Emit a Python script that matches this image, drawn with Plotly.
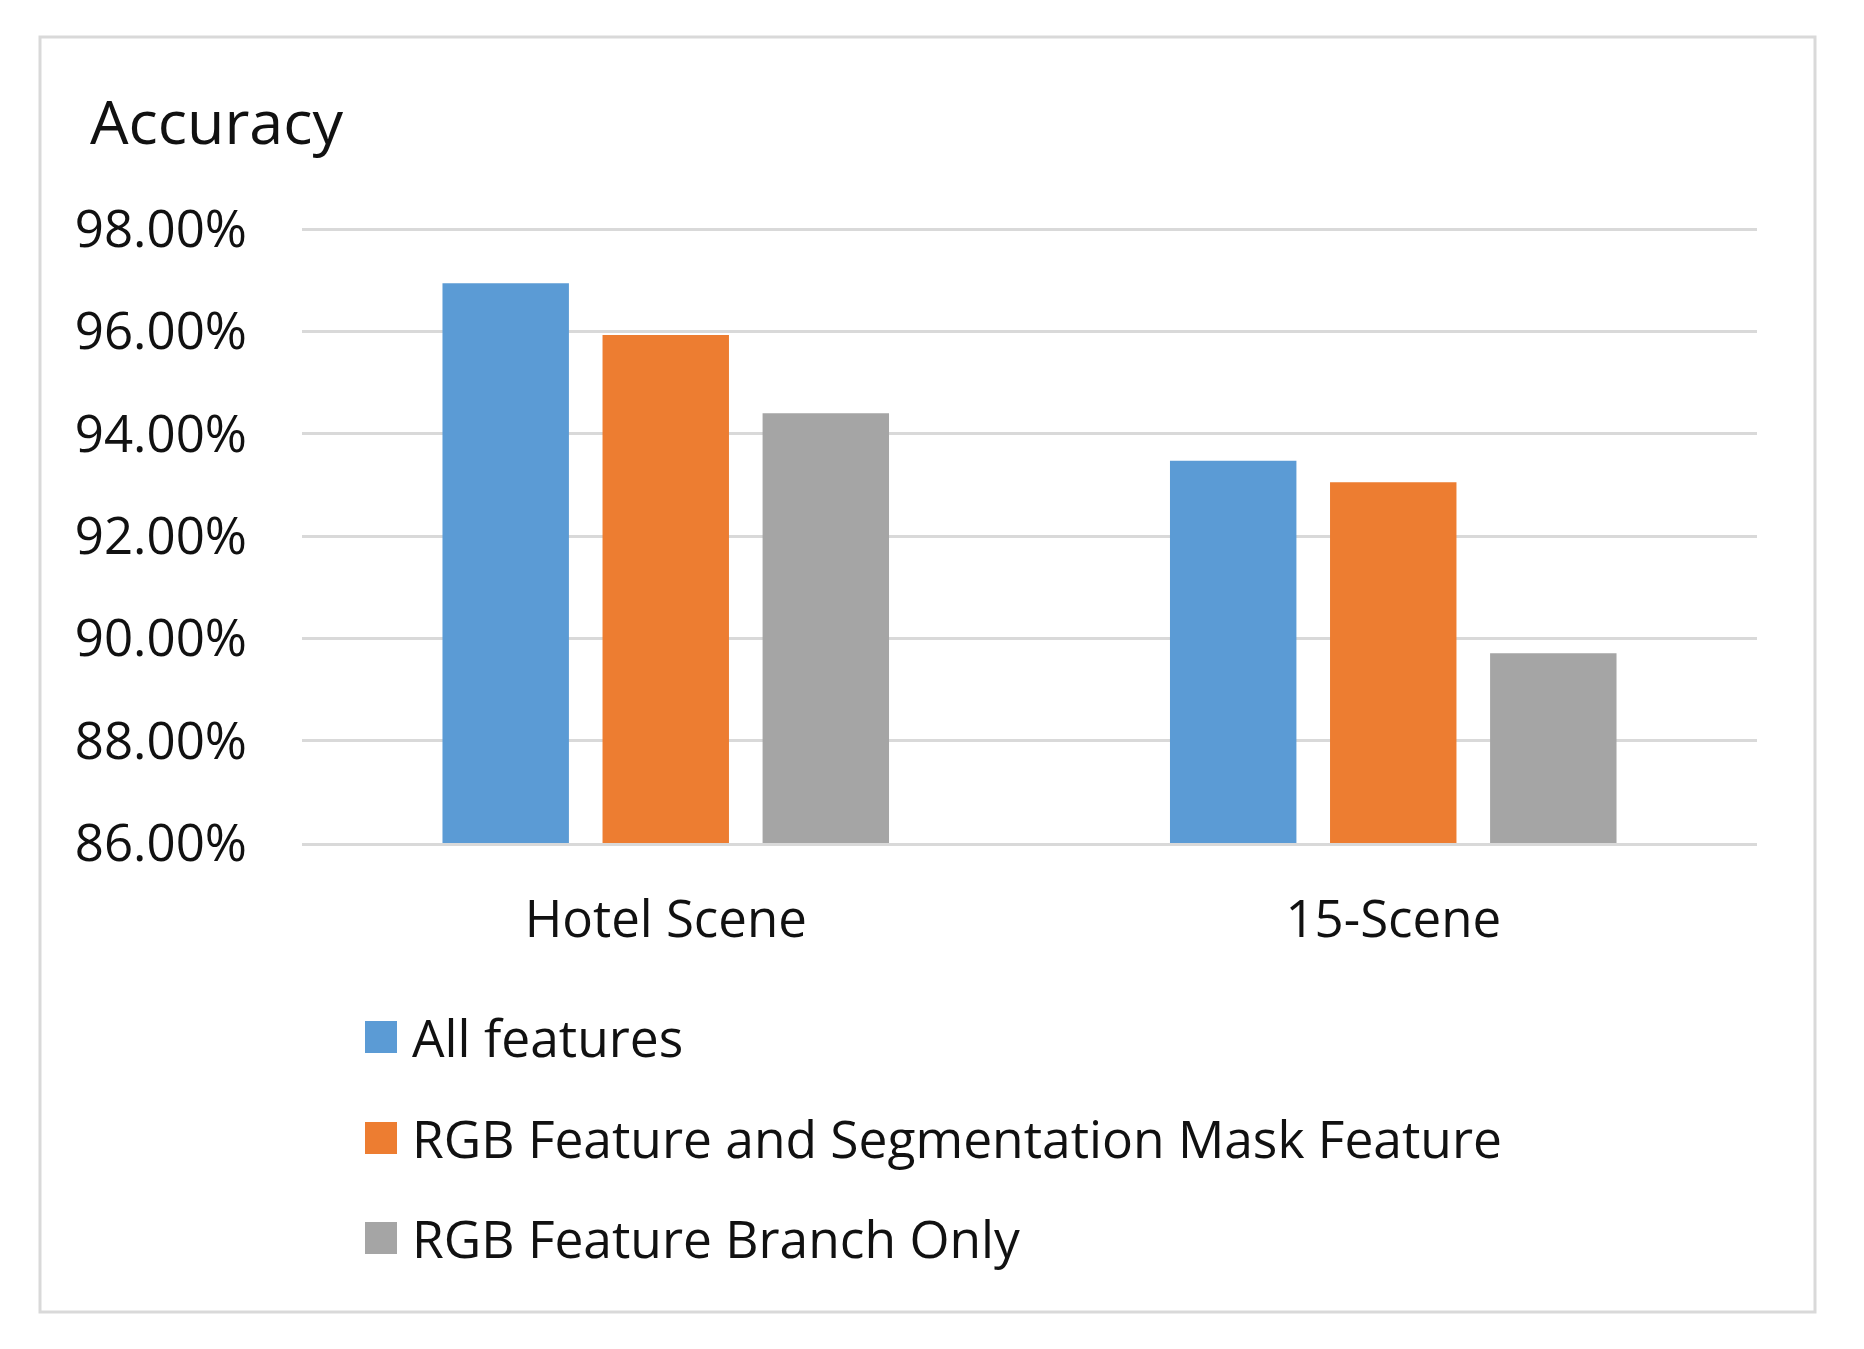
import plotly.graph_objects as go

# --- data ---
CATEGORIES = ["Hotel Scene", "15-Scene"]
SERIES_NAMES = [
    "All features",
    "RGB Feature and Segmentation Mask Feature",
    "RGB Feature Branch Only",
]
ALL_FEATURES = [0.9694, 0.9347]
RGB_AND_MASK = [0.9593, 0.9305]
RGB_ONLY = [0.9440, 0.8971]
Y_TICKS = [0.86, 0.88, 0.90, 0.92, 0.94, 0.96, 0.98]

COLORS = ["#5B9BD5", "#ED7D31", "#A5A5A5"]
TEXT = "#111111"
GRID = "#D9D9D9"
FONT = "Open Sans"

W, H = 1864, 1349
OFF = 8  # page body margin
# plot area in page pixels
PL, PR, PT, PB = 302, 1757, 228, 843


def px_x(x):
    return (x - PL) / (PR - PL)


def px_y(y):
    return (PB - y) / (PB - PT)


fig = go.Figure()
for name, vals, col in zip(SERIES_NAMES, [ALL_FEATURES, RGB_AND_MASK, RGB_ONLY], COLORS):
    fig.add_trace(go.Bar(x=CATEGORIES, y=vals, name=name, marker_color=col,
                         marker_line_width=0, showlegend=False))

fig.update_layout(
    width=W, height=H,
    margin=dict(l=PL - OFF, r=W - PR + OFF, t=PT - OFF, b=H - PB + OFF),
    paper_bgcolor="white", plot_bgcolor="white",
    font=dict(family=FONT, color=TEXT, size=51),
    barmode="group", bargap=0.34, bargroupgap=0.21,
)
fig.update_yaxes(
    range=[0.86, 0.9802], tickvals=Y_TICKS, tickformat=".2%",
    showgrid=True, gridcolor=GRID, gridwidth=3, zeroline=False,
    showline=False, ticks="", ticklabelstandoff=54,
    tickfont=dict(size=51, color=TEXT),
)
fig.update_xaxes(
    showline=True, linecolor=GRID, linewidth=3, ticks="",
    ticklabelstandoff=30, tickfont=dict(size=51, color=TEXT),
)

# axis title at the top left, as in the original
fig.add_annotation(text="Accuracy", xref="paper", yref="paper",
                   x=px_x(88), y=px_y(121), xanchor="left", yanchor="middle",
                   showarrow=False, font=dict(size=61, color=TEXT))

# legend drawn below the plot with large square keys
LEG_Y = [1037, 1138, 1238]
for name, col, ly in zip(SERIES_NAMES, COLORS, LEG_Y):
    fig.add_shape(type="rect", xref="paper", yref="paper",
                  x0=px_x(365), x1=px_x(397), y0=px_y(ly + 16), y1=px_y(ly - 16),
                  fillcolor=col, line_width=0)
    fig.add_annotation(text=name, xref="paper", yref="paper",
                       x=px_x(410), y=px_y(ly), xanchor="left", yanchor="middle",
                       showarrow=False, font=dict(size=51.5, color=TEXT))

# outer chart border
fig.add_shape(type="rect", xref="paper", yref="paper",
              x0=px_x(40), x1=px_x(1815), y0=px_y(1312), y1=px_y(37),
              line=dict(color=GRID, width=3), fillcolor="rgba(0,0,0,0)", layer="below")

fig.write_html("out.html")
